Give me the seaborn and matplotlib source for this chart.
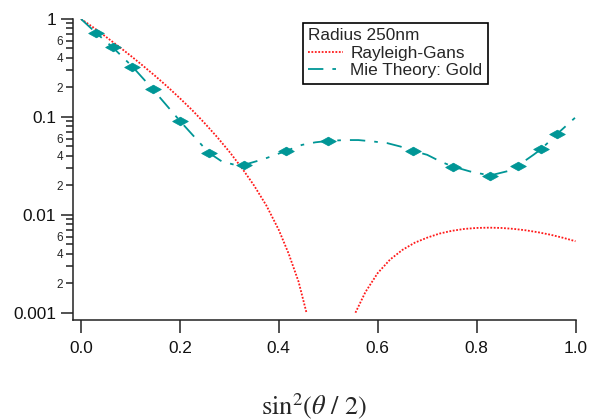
import matplotlib
matplotlib.use("Agg")
import matplotlib.pyplot as plt
import seaborn as sns
import numpy as np
from matplotlib.path import Path
from matplotlib.ticker import FixedLocator, FixedFormatter

# Rayleigh-Gans curve, two branches (drops below 0.001 around 0.5)
rg_x_left = [0.0, 0.025, 0.05, 0.075, 0.1, 0.125, 0.15, 0.175, 0.2, 0.225, 0.25,
             0.275, 0.3, 0.325, 0.35, 0.375, 0.4, 0.42, 0.44, 0.456]
rg_y_left = [1.0, 0.82, 0.66, 0.53, 0.423, 0.334, 0.262, 0.203, 0.155, 0.117, 0.0863,
             0.0625, 0.0441, 0.0302, 0.0199, 0.0124, 0.0070, 0.0040, 0.00207, 0.00100]
rg_x_right = [0.555, 0.575, 0.6, 0.625, 0.65, 0.675, 0.7, 0.725, 0.75, 0.775, 0.8,
              0.825, 0.85, 0.875, 0.9, 0.925, 0.95, 0.975, 1.0]
rg_y_right = [0.00100, 0.00162, 0.00254, 0.00349, 0.00438, 0.00519, 0.00584, 0.00643,
              0.00686, 0.00717, 0.00734, 0.00739, 0.00734, 0.00718, 0.00694, 0.00662,
              0.00625, 0.00582, 0.00537]

# Mie theory (gold) curve
mie_x = [0.0, 0.030, 0.064, 0.104, 0.145, 0.2, 0.258, 0.285, 0.31, 0.33, 0.369, 0.415,
         0.447, 0.474, 0.5, 0.534, 0.561, 0.592, 0.619, 0.646, 0.671, 0.70, 0.727,
         0.752, 0.787, 0.827, 0.865, 0.883, 0.915, 0.931, 0.963, 1.0]
mie_y = [1.0, 0.725, 0.514, 0.326, 0.192, 0.091, 0.0432, 0.035, 0.0325, 0.0324, 0.037,
         0.045, 0.0518, 0.055, 0.0569, 0.058, 0.058, 0.056, 0.054, 0.0498, 0.045, 0.041,
         0.035, 0.0311, 0.0277, 0.0252, 0.0281, 0.0316, 0.041, 0.0471, 0.0671, 0.099]

# Mie markers
mk_x = [0.030, 0.064, 0.104, 0.145, 0.2, 0.258, 0.33, 0.415, 0.5, 0.671, 0.752,
        0.827, 0.883, 0.931, 0.963]
mk_y = [0.725, 0.514, 0.326, 0.192, 0.091, 0.0432, 0.0324, 0.045, 0.0569, 0.045,
        0.0311, 0.0252, 0.0316, 0.0471, 0.0671]

x_ticks = [0.0, 0.2, 0.4, 0.6, 0.8, 1.0]
x_labels = ["0.0", "0.2", "0.4", "0.6", "0.8", "1.0"]
y_ticks = [0.001, 0.01, 0.1, 1]
y_labels = ["0.001", "0.01", "0.1", "1"]

RED = "#ff1a1a"
TEAL = "#009696"

sns.set_style("ticks")
plt.rcParams["font.family"] = ["Liberation Sans", "DejaVu Sans"]
plt.rcParams["mathtext.fontset"] = "stix"

fig = plt.figure(figsize=(6, 4.2), dpi=100)
ax = fig.add_axes([72.7 / 600, 1 - 320 / 420, (575.5 - 72.7) / 600, (320 - 19) / 420])
ax.set_yscale("log")

sns.lineplot(x=rg_x_left, y=rg_y_left, ax=ax, color=RED, lw=1.3,
             linestyle=(0, (1, 0.9)), label="Rayleigh-Gans", sort=False, estimator=None)
sns.lineplot(x=rg_x_right, y=rg_y_right, ax=ax, color=RED, lw=1.3,
             linestyle=(0, (1, 0.9)), sort=False, estimator=None)
sns.lineplot(x=mie_x, y=mie_y, ax=ax, color=TEAL, lw=1.3,
             linestyle=(0, (8.5, 5, 2, 5)), label="Mie Theory: Gold",
             sort=False, estimator=None)

diamond = Path([(-1, 0), (0, 0.55), (1, 0), (0, -0.55), (-1, 0)],
               [Path.MOVETO, Path.LINETO, Path.LINETO, Path.LINETO, Path.CLOSEPOLY])
sns.scatterplot(x=mk_x, y=mk_y, ax=ax, marker=diamond, s=125, color=TEAL,
                edgecolor=TEAL, linewidth=0.6, zorder=3)

ax.set_xlim(-0.0168, 1.0)
ax.set_ylim(10 ** -3.0746, 1.0)

for side in ["top", "right"]:
    ax.spines[side].set_visible(False)
for side in ["left", "bottom"]:
    ax.spines[side].set_linewidth(1.1)
    ax.spines[side].set_color("#222222")

ax.set_xticks(x_ticks)
ax.set_xticklabels(x_labels)
ax.xaxis.set_minor_locator(FixedLocator([]))
ax.set_yticks(y_ticks)
ax.set_yticklabels(y_labels)

minor_vals = []
minor_txt = []
for dec in [0.001, 0.01, 0.1]:
    for m in range(2, 10):
        minor_vals.append(m * dec)
        minor_txt.append(str(m) if m in (2, 4, 6) else "")
ax.yaxis.set_minor_locator(FixedLocator(minor_vals))
ax.yaxis.set_minor_formatter(FixedFormatter(minor_txt))

ax.tick_params(axis="both", which="major", direction="out", length=9, width=1.1,
               color="#222222", labelsize=12.4, labelcolor="#111111")
ax.tick_params(axis="x", which="major", pad=6)
ax.tick_params(axis="y", which="major", pad=3)
ax.tick_params(axis="y", which="minor", direction="out", length=5, width=1.1,
               color="#222222", labelsize=8.5, pad=2)
ax.set_xlabel("")
ax.set_ylabel("")
ax.grid(False)

handles, labels = ax.get_legend_handles_labels()
leg = ax.legend(handles, labels, title="Radius 250nm", loc="upper left",
                bbox_to_anchor=(303 / 600, 1 - 23 / 420), bbox_transform=fig.transFigure,
                frameon=True, fancybox=False, edgecolor="black", framealpha=1,
                borderpad=0.3, handlelength=2.0, handletextpad=0.45, labelspacing=0.15,
                borderaxespad=0, fontsize=12.4, title_fontsize=12.4, alignment="left")
leg.get_frame().set_linewidth(1.2)

fig.text(314 / 600, 1 - 406 / 420, r"$\mathrm{sin}^2(\theta\ /\ 2)$",
         ha="center", va="center", fontsize=19)

fig.savefig("out.png", dpi=100)
